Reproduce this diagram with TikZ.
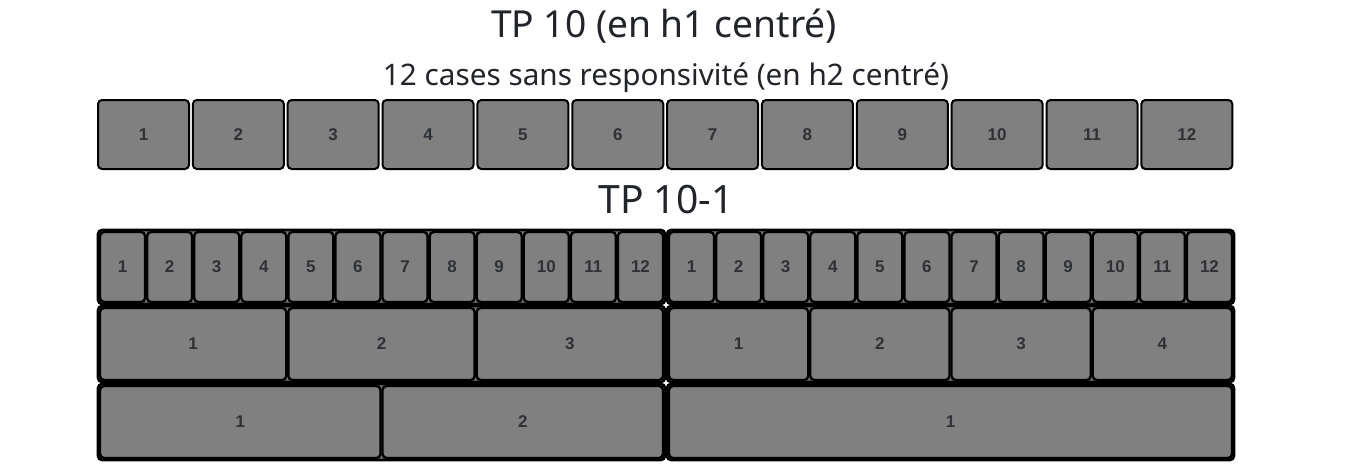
\documentclass[tikz,border=0pt]{standalone}
\usepackage{fontspec}
\setmainfont{Noto Sans}
\newfontfamily\numfont{Liberation Sans}
\usepackage{graphicx}
\definecolor{cellgray}{HTML}{808080}
\definecolor{numdark}{HTML}{2E3136}
\definecolor{headdark}{HTML}{212529}
\tikzset{
  cell/.style={draw=black, line width=2.4pt, fill=cellgray, rounded corners=4pt,
    inner sep=0pt, text=numdark, text height=11pt, text depth=0pt,
    font=\numfont\bfseries\fontsize{17}{20}\selectfont},
  boxc/.style={draw=black, line width=2.6pt, fill=cellgray, rounded corners=4pt, inner sep=0pt},
  head/.style={text=headdark, inner sep=0pt, anchor=base}
}
\newcommand\mygridrow[5]{%
  \pgfmathsetmacro\ctry{(#2+#3)/2}%
  \pgfmathsetmacro\chh{#3-#2-2}%
  \pgfmathsetmacro\khh{#3-#2-6}%
  \pgfmathsetmacro\kwl{565/#4-2}%
  \pgfmathsetmacro\kwr{565/#5-2}%
  \node[boxc, minimum width=567pt, minimum height=\chh pt] (#1L) at (381.5,\ctry) {};
  \node[boxc, minimum width=567pt, minimum height=\chh pt] (#1R) at (950.5,\ctry) {};
  \foreach \k in {1,...,#4}{
    \node[cell, minimum width=\kwl pt, minimum height=\khh pt] (#1L\k) at ({99+565/#4*(\k-0.5)},\ctry) {\k};
  }
  \foreach \k in {1,...,#5}{
    \node[cell, minimum width=\kwr pt, minimum height=\khh pt] (#1R\k) at ({668+565/#5*(\k-0.5)},\ctry) {\k};
  }
}
\begin{document}
\begin{tikzpicture}[x=1pt,y=-1pt]
\useasboundingbox[fill=white] (0,0) rectangle (1366,474);
% headings
\node[head] (h1) at (664,37) {\resizebox{346pt}{!}{TP 10 (en h1 centré)}};
\node[head] (h2) at (666,85) {\resizebox{566pt}{!}{12 cases sans responsivité (en h2 centré)}};
\node[head] (h3) at (666,213) {\resizebox{135pt}{!}{TP 10-1}};
% top row of 12 cells
\foreach \i in {1,...,12}{
  \node[cell, line width=2pt, minimum width=91pt, minimum height=69pt] (top\i) at ({97+94.85*(\i-1)+46.5},134.5) {\i};
}
% grid rows
\mygridrow{ra}{229}{305}{12}{12}
\mygridrow{rb}{305}{383}{3}{4}
\mygridrow{rc}{383}{461}{2}{1}
\end{tikzpicture}
\end{document}
